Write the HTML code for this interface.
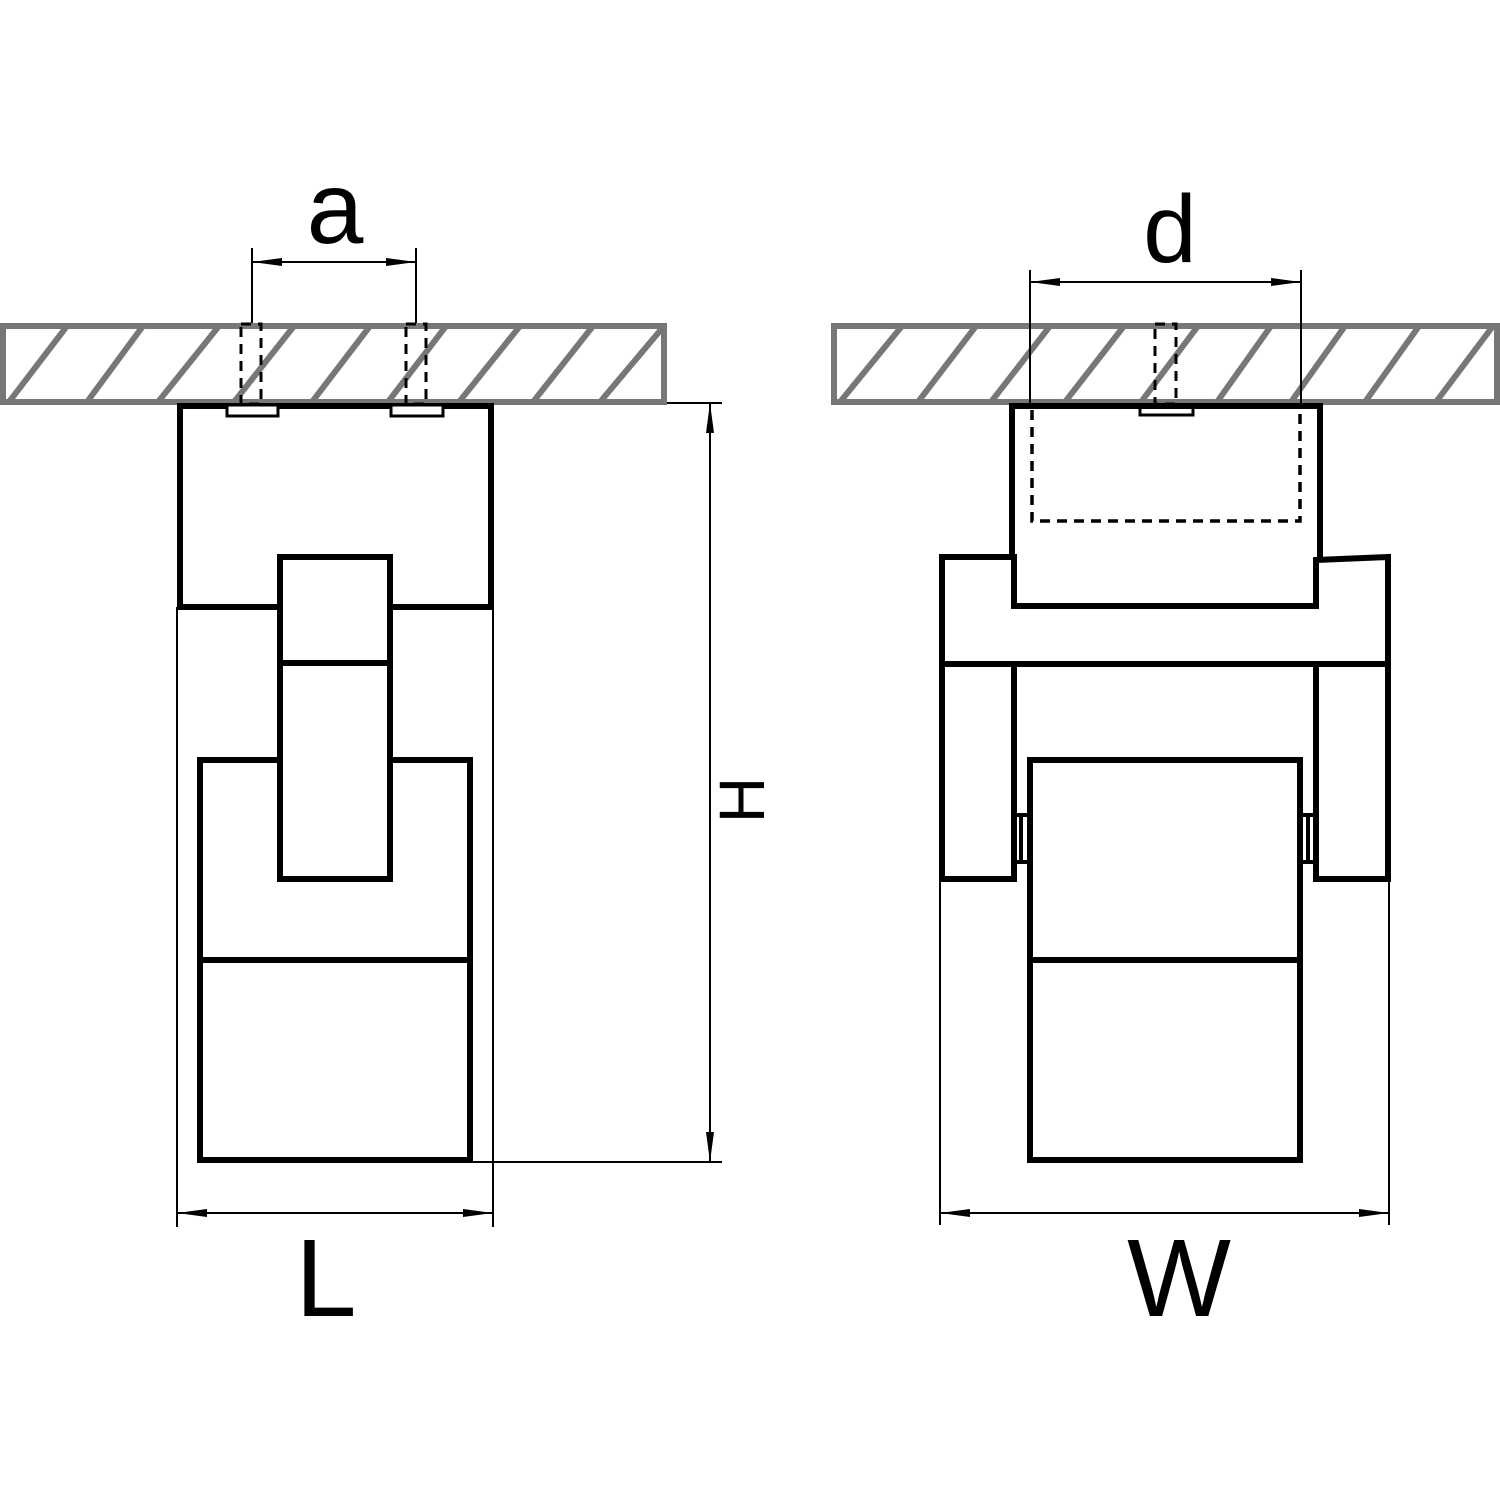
<!DOCTYPE html>
<html><head><style>html,body{margin:0;padding:0;background:#fff}svg{display:block}</style></head>
<body>
<svg width="1500" height="1500" viewBox="0 0 1500 1500" xmlns="http://www.w3.org/2000/svg">
<defs>
<clipPath id="cl"><rect x="3" y="326" width="661" height="76"/></clipPath>
<clipPath id="cr"><rect x="834" y="326" width="663" height="76"/></clipPath>
</defs>
<rect width="1500" height="1500" fill="#fff"/>
<!-- slabs -->
<g stroke="#777" stroke-width="6" fill="none">
<rect x="3" y="326" width="661" height="76"/>
<rect x="834" y="326" width="663" height="76"/>
</g>
<g stroke="#777" stroke-width="6" clip-path="url(#cl)">
<line x1="9" y1="402" x2="67" y2="326"/><line x1="87" y1="402" x2="143" y2="326"/><line x1="158" y1="402" x2="219" y2="326"/><line x1="234" y1="402" x2="294" y2="326"/><line x1="312" y1="402" x2="370" y2="326"/><line x1="388" y1="402" x2="446" y2="326"/><line x1="459" y1="402" x2="520" y2="326"/><line x1="533" y1="402" x2="593" y2="326"/><line x1="600" y1="402" x2="664" y2="326"/>
</g>
<g stroke="#777" stroke-width="6" clip-path="url(#cr)">
<line x1="840" y1="402" x2="902" y2="326"/><line x1="918" y1="402" x2="976" y2="326"/><line x1="991" y1="402" x2="1050" y2="326"/><line x1="1065" y1="402" x2="1124" y2="326"/><line x1="1141" y1="402" x2="1198" y2="326"/><line x1="1217" y1="402" x2="1271" y2="326"/><line x1="1291" y1="402" x2="1345" y2="326"/><line x1="1365" y1="402" x2="1419" y2="326"/><line x1="1436" y1="402" x2="1493" y2="326"/>
</g>
<!-- dashed in slab -->
<g stroke="#000" stroke-width="3" fill="none" stroke-dasharray="10,7">
<rect x="241" y="324" width="20" height="80"/>
<rect x="406" y="324" width="20" height="80"/>
<rect x="1155" y="324" width="21" height="80"/>
<path d="M1032 410 V521 H1300 V405" stroke-width="3.5"/>
</g>
<!-- thin dimension lines -->
<g stroke="#000" stroke-width="2" fill="none">
<line x1="252" y1="248" x2="252" y2="323"/><line x1="416" y1="248" x2="416" y2="323"/>
<line x1="252" y1="262" x2="416" y2="262"/>
<line x1="1030" y1="270" x2="1030" y2="403"/><line x1="1301" y1="270" x2="1301" y2="403"/>
<line x1="1030" y1="282" x2="1301" y2="282"/>
<line x1="667" y1="403" x2="722" y2="403"/><line x1="470" y1="1162" x2="722" y2="1162"/>
<line x1="710" y1="403" x2="710" y2="1162"/>
<line x1="177" y1="607" x2="177" y2="1227"/><line x1="493" y1="607" x2="493" y2="1227"/>
<line x1="177" y1="1213" x2="493" y2="1213"/>
<line x1="940" y1="880" x2="940" y2="1225"/><line x1="1389" y1="880" x2="1389" y2="1225"/>
<line x1="940" y1="1213" x2="1389" y2="1213"/>
</g>
<!-- arrowheads -->
<g fill="#000">
<path d="M252 262 l30 -4 v8z"/><path d="M416 262 l-30 -4 v8z"/>
<path d="M1030 282 l30 -4 v8z"/><path d="M1301 282 l-30 -4 v8z"/>
<path d="M710 403 l-4 30 h8z"/><path d="M710 1162 l-4 -30 h8z"/>
<path d="M177 1213 l30 -4 v8z"/><path d="M493 1213 l-30 -4 v8z"/>
<path d="M940 1213 l30 -4 v8z"/><path d="M1389 1213 l-30 -4 v8z"/>
</g>
<!-- left device -->
<g stroke="#000" stroke-width="6" fill="none">
<path d="M277 607 H180 V406 H491 V607 H392"/>
<rect x="280" y="557" width="110" height="322" fill="#fff"/>
<line x1="280" y1="663" x2="390" y2="663"/>
<path d="M280 760 H200 V1160 H470 V760 H390"/>
<line x1="200" y1="960" x2="470" y2="960"/>
</g>
<g stroke="#000" stroke-width="3" fill="#fff">
<rect x="227" y="405" width="51" height="11"/>
<rect x="391" y="405" width="52" height="11"/>
<rect x="1140" y="405" width="53" height="10"/>
</g>
<!-- right device -->
<g stroke="#000" stroke-width="6" fill="none">
<path d="M1012 557 V406 H1320 V560"/>
<path d="M942 557 H1014 V606 H1316 V560 L1388 557 V664 H942 Z"/>
<rect x="942" y="664" width="72" height="215"/>
<rect x="1316" y="664" width="72" height="215"/>
<rect x="1030" y="760" width="270" height="400"/>
<line x1="1030" y1="960" x2="1300" y2="960"/>
</g>
<g stroke="#000" stroke-width="4" fill="none">
<path d="M1014 815 H1030 M1014 862 H1030 M1021 815 V862"/>
<path d="M1300 815 H1316 M1300 862 H1316 M1308 815 V862"/>
</g>
<!-- labels -->
<g font-family="Liberation Sans, sans-serif" fill="#000" text-anchor="middle">
<text x="335" y="243" font-size="102">a</text>
<text x="1170" y="262" font-size="96">d</text>
<text x="326" y="1316" font-size="110">L</text>
<text x="1179" y="1316" font-size="110">W</text>
<text transform="translate(764,800) rotate(-90)" x="0" y="0" font-size="64">H</text>
</g>
</svg>
</body></html>
